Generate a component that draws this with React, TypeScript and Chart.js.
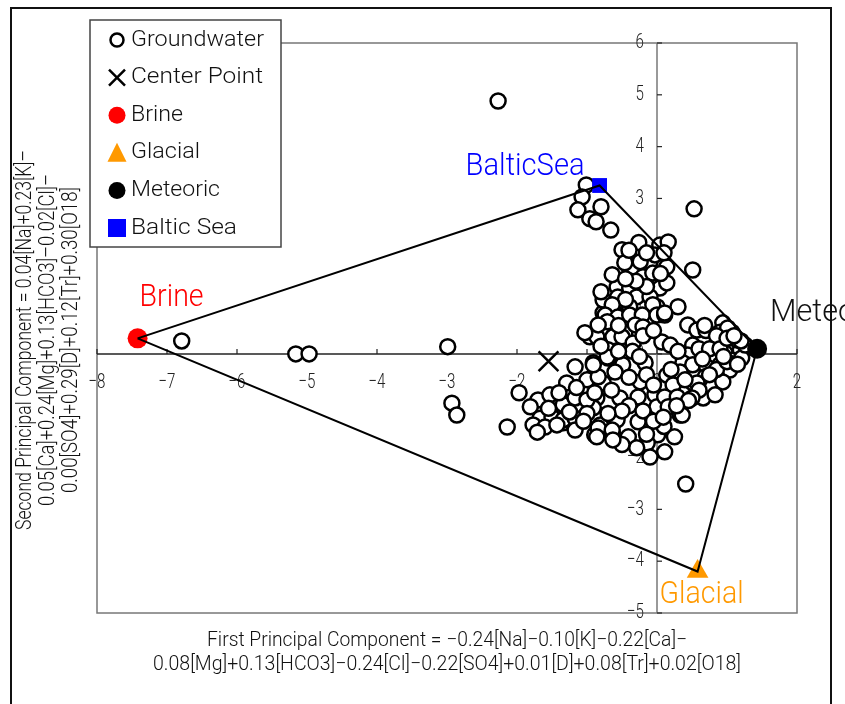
import React, { useEffect, useRef } from "react";
import { Chart, registerables } from "chart.js";

Chart.register(...registerables);

// Axis ticks
const xTicks = [-8, -7, -6, -5, -4, -3, -2, -1, 0, 1, 2];
const yTicks = [-5, -4, -3, -2, -1, 0, 1, 2, 3, 4, 5, 6];

// End members (order: Brine, Baltic Sea, Meteoric, Glacial)
const endMemberNames = ["Brine", "Baltic Sea", "Meteoric", "Glacial"];
const endMemberLabels = ["Brine", "BalticSea", "Meteoric", "Glacial"];
const endMemberX = [-7.42, -0.82, 1.43, 0.58];
const endMemberY = [0.3, 3.25, 0.1, -4.2];
const endMemberColors = ["#ff0000", "#0000ff", "#000000", "#ff9900"];

// Center point of the groundwater samples
const centerX = [-1.55];
const centerY = [-0.14];

// Groundwater samples (PC1, PC2)
const gwOutliers: [number, number][] = [
  [-6.79, 0.25], [-5.16, 0.0], [-4.97, 0.0], [-2.99, 0.14], [-2.93, -0.95], [-2.86, -1.18],
  [-2.27, 4.88], [-2.14, -1.41], [-1.97, -0.75], [0.53, 2.8], [0.51, 1.62], [0.41, -2.51], [0.3, 0.91],
];
const gwBaltic: [number, number][] = [
  [-1.01, 3.26], [-1.07, 3.03], [-1.13, 2.78], [-0.96, 2.61], [-0.8, 2.84], [-0.87, 2.55], [-0.66, 2.39],
];
const gwUpper: [number, number][] = [
  [-0.5, 2.01], [-0.29, 2.01], [0.04, 2.1], [0.16, 2.16], [-0.1, 1.78], [-0.34, 1.68], [-0.46, 1.76],
  [0.14, 1.68], [0.04, 1.43], [0.04, 1.27], [-0.57, 1.29], [-0.56, 1.1], [-0.39, 1.27], [-0.2, 1.49],
  [-0.06, 1.56], [0.14, 1.37], [-0.29, 1.1], [-0.1, 1.1], [0.0, 0.91], [-0.39, 0.91], [-0.77, 0.79],
  [-0.6, 0.79], [-0.24, 1.78], [-0.03, 1.91], [-0.26, 2.15], [-0.64, 1.53], [-0.77, 1.04],
  [-0.45, 1.05], [-0.15, 1.3], [-0.3, 1.4], [-0.45, 1.45], [0.05, 1.55], [-0.15, 1.95], [-0.4, 2.0],
  [0.1, 1.95], [-0.8, 1.2],
];
const gwCentral: [number, number][] = [
  [-0.64, 0.95], [-0.06, 0.95], [-0.74, 0.75], [-0.56, 0.71], [-0.39, 0.75], [-0.21, 0.75], [0.0, 0.75],
  [0.11, 0.75], [-0.71, 0.62], [-0.46, 0.42], [-0.31, 0.56], [-0.2, 0.52], [-0.96, 0.33], [-0.86, 0.33],
  [-0.63, 0.33], [-0.5, 0.33], [-0.34, 0.21], [0.07, 0.23], [0.19, 0.17], [-0.7, 0.08], [-0.7, -0.08],
  [-0.91, -0.17], [-1.17, -0.25], [-0.49, -0.21], [-0.17, -0.17], [-0.71, -0.06], [-1.03, 0.41], [-0.84, 0.56],
  [-0.55, 0.55], [-0.2, 0.35], [-0.05, 0.45], [-0.8, 0.15], [-0.35, 0.05], [-0.25, -0.05], [-0.55, 0.05],
];
const gwLower: [number, number][] = [
  [0.14, -0.41], [-0.24, -0.54], [-0.91, -0.44], [-1.29, -0.56], [-0.77, -0.56], [-1.03, -0.69],
  [-0.86, -0.85], [-0.53, -0.85], [-0.27, -0.83], [-0.03, -0.79], [0.0, -1.02], [0.19, -0.95],
  [-1.29, -0.95], [-1.1, -1.02], [-0.91, -1.04], [0.33, -1.18], [-0.27, -1.31], [-0.57, -1.27],
  [-0.81, -1.37], [-0.89, -1.56], [-0.63, -1.56], [-0.41, -1.6], [0.01, -1.56], [-0.14, -1.72],
  [-0.29, -1.81], [0.11, -1.89], [-0.1, -1.99], [-1.34, -1.33], [-1.2, -1.31], [0.43, -0.69],
  [0.51, -0.56], [0.37, -0.44], [0.51, -0.37], [0.47, 0.02], [0.57, 0.21],
  [-0.6, -0.35], [-0.4, -0.45], [-0.15, -0.4], [-0.05, -0.6], [-0.65, -0.7], [-0.4, -1.0], [-0.2, -1.1],
  [-0.5, -1.1], [-0.7, -1.15], [0.1, -1.4], [-0.05, -1.3], [-0.5, -1.75], [-0.15, -1.55], [0.25, -1.6],
];
const gwWing: [number, number][] = [
  [-1.0, -0.5], [-0.84, -0.44], [-1.7, -0.89], [-1.53, -0.79], [-1.34, -0.98], [-1.17, -0.85],
  [-1.0, -0.89], [-0.89, -0.75], [-1.81, -1.02], [-1.67, -1.24], [-1.5, -1.22], [-1.34, -1.27],
  [-1.17, -1.24], [-1.77, -1.37], [-1.6, -1.41], [-1.43, -1.37], [-0.84, -1.43], [-0.64, -1.47],
  [-1.71, -1.51], [-0.86, -1.6], [-0.63, -1.66], [-0.91, -0.21], [-1.17, -1.47],
  [-1.0, -1.15], [-1.15, -0.65], [-1.4, -0.75], [-1.55, -1.05], [-1.25, -1.12], [-1.05, -1.3],
];
const gwMeteoric: [number, number][] = [
  [0.11, 0.79], [0.94, 0.6], [1.07, 0.42], [0.9, 0.42], [0.8, 0.27], [0.66, 0.31], [0.51, 0.17],
  [1.09, 0.17], [1.19, 0.08], [0.61, 0.02], [0.79, -0.08], [0.97, 0.02], [0.44, -0.02], [0.37, -0.17],
  [0.51, -0.21], [0.71, -0.25], [0.9, -0.21], [1.07, -0.12], [1.21, -0.08], [0.33, -0.35], [0.69, -0.44],
  [0.87, -0.41], [1.04, -0.31], [0.23, -0.6], [0.57, -0.56], [0.79, -0.64], [0.94, -0.54], [0.11, -0.83],
  [0.29, -0.83], [0.66, -0.85], [0.16, -1.02], [0.36, -1.18], [0.09, -1.22], [1.26, 0.17], [1.14, 0.27],
  [1.01, 0.5], [0.44, 0.56], [0.57, 0.46], [0.83, -0.79],
  [0.7, 0.45], [0.85, 0.35], [0.6, 0.1], [0.75, 0.1], [0.9, 0.1], [1.0, 0.3], [0.65, -0.1], [0.85, -0.3],
  [1.0, -0.15], [0.4, -0.5], [0.6, -0.7], [0.75, -0.4], [0.5, -0.85], [0.2, -0.3], [0.3, 0.05],
  [1.15, -0.2], [0.95, -0.05], [1.2, 0.25], [0.68, 0.55], [1.1, 0.35], [0.45, -0.9], [0.28, -1.0],
];

const xTitle = [
  "First Principal Component = \u22120.24[Na]\u22120.10[K]\u22120.22[Ca]\u2212",
  "0.08[Mg]+0.13[HCO3]\u22120.24[Cl]\u22120.22[SO4]+0.01[D]+0.08[Tr]+0.02[O18]",
];
const yTitle = [
  "Second Principal Component = 0.04[Na]+0.23[K]\u2013",
  "0.05[Ca]+0.24[Mg]+0.13[HCO3]\u20130.02[Cl]\u2013",
  "0.00[SO4]+0.29[D]+0.12[Tr]+0.30[O18]",
];

const FONT = "Roboto, 'DejaVu Sans', sans-serif";

type TextOpt = {
  size: number;
  color?: string;
  align?: "left" | "center" | "right";
  width?: number;
  sx?: number;
  spacing?: number;
  rotate?: number;
  weight?: number;
};

function drawText(ctx: CanvasRenderingContext2D, text: string, x: number, y: number, o: TextOpt) {
  ctx.save();
  ctx.font = `${o.weight ?? 300} ${o.size}px ${FONT}`;
  (ctx as any).letterSpacing = `${o.spacing ?? 0}px`;
  const raw = ctx.measureText(text).width - (o.spacing ?? 0);
  const sx = o.width ? o.width / raw : o.sx ?? 1;
  ctx.translate(x, y);
  if (o.rotate) ctx.rotate(o.rotate);
  ctx.scale(sx, 1);
  ctx.fillStyle = o.color ?? "#111";
  ctx.textBaseline = "middle";
  ctx.textAlign = "left";
  const left = o.align === "center" ? -raw / 2 : o.align === "right" ? -raw : 0;
  ctx.fillText(text, left, 0);
  ctx.restore();
}

function drawMarker(ctx: CanvasRenderingContext2D, kind: string, x: number, y: number, color: string) {
  ctx.save();
  ctx.fillStyle = color;
  ctx.strokeStyle = color;
  if (kind === "open") {
    ctx.beginPath();
    ctx.arc(x, y, 6.5, 0, Math.PI * 2);
    ctx.fillStyle = "#fff";
    ctx.fill();
    ctx.lineWidth = 2.5;
    ctx.strokeStyle = "#000";
    ctx.stroke();
  } else if (kind === "cross") {
    ctx.lineWidth = 2.5;
    ctx.beginPath();
    ctx.moveTo(x - 8, y - 8);
    ctx.lineTo(x + 8, y + 8);
    ctx.moveTo(x + 8, y - 8);
    ctx.lineTo(x - 8, y + 8);
    ctx.stroke();
  } else if (kind === "circle") {
    ctx.beginPath();
    ctx.arc(x, y, 8.5, 0, Math.PI * 2);
    ctx.fill();
  } else if (kind === "triangle") {
    ctx.beginPath();
    ctx.moveTo(x, y - 10);
    ctx.lineTo(x + 9.5, y + 9);
    ctx.lineTo(x - 9.5, y + 9);
    ctx.closePath();
    ctx.fill();
  } else if (kind === "square") {
    ctx.fillRect(x - 9, y - 9, 18, 18);
  }
  ctx.restore();
}

const framePlugin = {
  id: "frame",
  beforeDatasetsDraw(chart: any) {
    const { ctx, chartArea: a, scales } = chart;
    const xs = scales.x;
    const ys = scales.y;
    ctx.save();
    // outer frame
    ctx.strokeStyle = "#111";
    ctx.lineWidth = 2;
    ctx.strokeRect(11, 8, 820, 720);
    // plot border
    ctx.strokeStyle = "#777";
    ctx.lineWidth = 1.5;
    ctx.strokeRect(a.left, a.top, a.right - a.left, a.bottom - a.top);
    // axes crossing at the origin
    const x0 = xs.getPixelForValue(0);
    const y0 = ys.getPixelForValue(0);
    ctx.strokeStyle = "#222";
    ctx.lineWidth = 1.5;
    ctx.beginPath();
    ctx.moveTo(a.left, y0);
    ctx.lineTo(a.right, y0);
    ctx.stroke();
    ctx.strokeStyle = "#777";
    ctx.beginPath();
    ctx.moveTo(x0, a.top);
    ctx.lineTo(x0, a.bottom);
    ctx.stroke();
    ctx.strokeStyle = "#222";
    ctx.lineWidth = 1.2;
    xTicks.forEach((t) => {
      const px = xs.getPixelForValue(t);
      ctx.beginPath();
      ctx.moveTo(px, y0);
      ctx.lineTo(px, y0 - 5);
      ctx.stroke();
      drawText(ctx, t < 0 ? "\u2212" + Math.abs(t) : String(t), px, y0 + 29, {
        size: 21, align: "center", sx: 0.72, color: "#222",
      });
    });
    yTicks.forEach((t) => {
      const py = ys.getPixelForValue(t);
      ctx.beginPath();
      ctx.moveTo(x0, py);
      ctx.lineTo(x0 + 5, py);
      ctx.stroke();
      drawText(ctx, t < 0 ? "\u2212" + Math.abs(t) : String(t), x0 - 13, py, {
        size: 21, align: "right", sx: 0.72, color: "#222",
      });
    });
    // axis titles
    const cx = (a.left + a.right) / 2;
    drawText(ctx, xTitle[0], cx, 641, { size: 20, align: "center", width: 480, color: "#111" });
    drawText(ctx, xTitle[1], cx, 665, { size: 20, align: "center", width: 588, color: "#111" });
    const ylen = [380, 332, 306];
    [25, 48, 71].forEach((lx, i) => {
      drawText(ctx, yTitle[i], lx, 340, {
        size: 22, align: "center", width: ylen[i], rotate: -Math.PI / 2, color: "#111",
      });
    });
    ctx.restore();
  },
  afterDatasetsDraw(chart: any) {
    const { ctx, scales } = chart;
    const xs = scales.x;
    const ys = scales.y;
    // end member labels
    const px = (i: number) => xs.getPixelForValue(endMemberX[i]);
    const py = (i: number) => ys.getPixelForValue(endMemberY[i]);
    drawText(ctx, endMemberLabels[0], px(0) + 2, py(0) - 40, { size: 31, width: 64, color: endMemberColors[0] });
    drawText(ctx, endMemberLabels[1], px(1) - 15, py(1) - 18, { size: 31, align: "right", width: 119, color: endMemberColors[1] });
    drawText(ctx, endMemberLabels[2], px(2) + 13, py(2) - 35, { size: 31, width: 118, color: "#111" });
    drawText(ctx, endMemberLabels[3], px(3) - 38, py(3) + 24, { size: 31, width: 84, color: endMemberColors[3] });

    // legend
    ctx.save();
    ctx.fillStyle = "#fff";
    ctx.fillRect(90, 20, 191, 227);
    ctx.strokeStyle = "#444";
    ctx.lineWidth = 1.5;
    ctx.strokeRect(90, 20, 191, 227);
    ctx.restore();
    const items = [
      { label: "Groundwater", kind: "open", color: "#000", w: 133 },
      { label: "Center Point", kind: "cross", color: "#000", w: 132 },
      { label: endMemberNames[0], kind: "circle", color: endMemberColors[0], w: 52 },
      { label: endMemberNames[3], kind: "triangle", color: endMemberColors[3], w: 69 },
      { label: endMemberNames[2], kind: "circle", color: endMemberColors[2], w: 89 },
      { label: endMemberNames[1], kind: "square", color: endMemberColors[1], w: 106 },
    ];
    items.forEach((it, i) => {
      const y = 40 + i * 37.6;
      drawMarker(ctx, it.kind, 117, y, it.color);
      drawText(ctx, it.label, 131, y, { size: 22.5, width: it.w, color: "#111" });
    });
  },
};

export default function App() {
  const ref = useRef<HTMLCanvasElement | null>(null);

  useEffect(() => {
    document.body.style.margin = "0";
    const canvas = ref.current;
    if (!canvas) return;
    const groundwater = [...gwOutliers, ...gwBaltic, ...gwUpper, ...gwCentral, ...gwLower, ...gwWing, ...gwMeteoric];
    const polygonOrder = [0, 1, 2, 3, 0];
    const chart = new Chart(canvas, {
      type: "scatter",
      data: {
        datasets: [
          {
            label: "Mixing polygon",
            data: polygonOrder.map((i) => ({ x: endMemberX[i], y: endMemberY[i] })),
            showLine: true,
            borderColor: "#000",
            borderWidth: 2,
            pointRadius: 0,
            fill: false,
            order: 0,
          },
          {
            label: "Groundwater",
            data: groundwater.map(([x, y]) => ({ x, y })),
            pointStyle: "circle",
            pointRadius: 7.5,
            backgroundColor: "#fff",
            borderColor: "#000",
            borderWidth: 2.5,
            order: 3,
          },
          {
            label: "Center Point",
            data: centerX.map((x, i) => ({ x, y: centerY[i] })),
            pointStyle: "crossRot",
            pointRadius: 14,
            borderColor: "#000",
            borderWidth: 2.5,
            order: 2,
          },
          ...endMemberNames.map((name, i) => ({
            label: name,
            data: [{ x: endMemberX[i], y: endMemberY[i] }],
            pointStyle: ["circle", "rect", "circle", "triangle"][i] as any,
            pointRadius: [10, 10.5, 10, 12.5][i],
            backgroundColor: endMemberColors[i],
            borderColor: endMemberColors[i],
            borderWidth: 0,
            order: 1,
          })),
        ],
      },
      options: {
        responsive: false,
        animation: false,
        layout: { padding: { left: 97, top: 43, right: 48, bottom: 91 } },
        plugins: { legend: { display: false }, tooltip: { enabled: false } },
        scales: {
          x: { type: "linear", min: -8, max: 2, display: false },
          y: { type: "linear", min: -5, max: 6, display: false },
        },
      },
      plugins: [framePlugin],
    });
    return () => chart.destroy();
  }, []);

  return (
    <div style={{ width: 845, height: 704, overflow: "hidden", background: "#fff" }}>
      <canvas ref={ref} width={845} height={704} style={{ display: "block" }} />
    </div>
  );
}
